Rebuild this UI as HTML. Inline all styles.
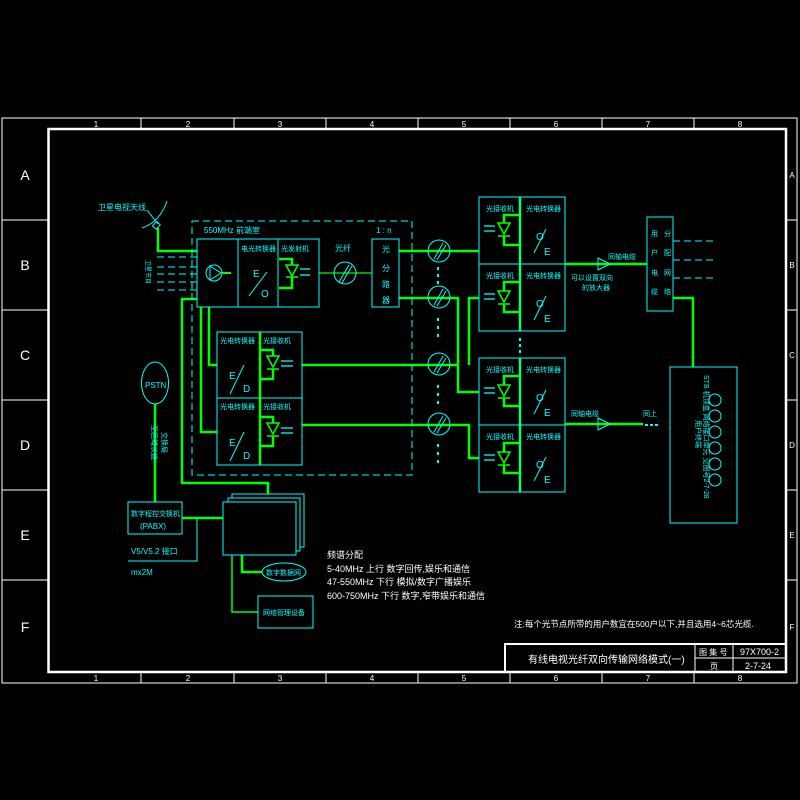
<!DOCTYPE html>
<html><head><meta charset="utf-8"><style>
html,body{margin:0;padding:0;background:#000;}
svg{display:block}
text{font-family:"Liberation Sans","Noto Sans CJK SC",sans-serif;}
</style></head><body>
<svg width="800" height="800" viewBox="0 0 800 800" xmlns="http://www.w3.org/2000/svg">
<rect width="800" height="800" fill="#000"/>
<g stroke="#fff" fill="none">
<rect x="2" y="118" width="795" height="565" stroke-width="1"/>
<rect x="48.5" y="129" width="737.5" height="543" stroke-width="2.5"/>
<line x1="141" y1="118" x2="141" y2="129"/><line x1="234" y1="118" x2="234" y2="129"/><line x1="326" y1="118" x2="326" y2="129"/><line x1="418" y1="118" x2="418" y2="129"/><line x1="510" y1="118" x2="510" y2="129"/><line x1="602" y1="118" x2="602" y2="129"/><line x1="694" y1="118" x2="694" y2="129"/>
<line x1="141" y1="672" x2="141" y2="683"/><line x1="234" y1="672" x2="234" y2="683"/><line x1="326" y1="672" x2="326" y2="683"/><line x1="418" y1="672" x2="418" y2="683"/><line x1="510" y1="672" x2="510" y2="683"/><line x1="602" y1="672" x2="602" y2="683"/><line x1="694" y1="672" x2="694" y2="683"/>
<line x1="2" y1="220" x2="48" y2="220"/><line x1="2" y1="310" x2="48" y2="310"/><line x1="2" y1="400" x2="48" y2="400"/><line x1="2" y1="490" x2="48" y2="490"/><line x1="2" y1="580" x2="48" y2="580"/>
<line x1="786" y1="220" x2="797" y2="220"/><line x1="786" y1="310" x2="797" y2="310"/><line x1="786" y1="400" x2="797" y2="400"/><line x1="786" y1="490" x2="797" y2="490"/><line x1="786" y1="580" x2="797" y2="580"/>
</g>
<g fill="#fff" font-size="8" text-anchor="middle">
<text x="96" y="127">1</text><text x="188" y="127">2</text><text x="280" y="127">3</text><text x="372" y="127">4</text><text x="464" y="127">5</text><text x="556" y="127">6</text><text x="648" y="127">7</text><text x="740" y="127">8</text>
<text x="96" y="681">1</text><text x="188" y="681">2</text><text x="280" y="681">3</text><text x="372" y="681">4</text><text x="464" y="681">5</text><text x="556" y="681">6</text><text x="648" y="681">7</text><text x="740" y="681">8</text>
</g>
<g fill="#fff" font-size="14" text-anchor="middle">
<text x="25" y="180">A</text><text x="25" y="270">B</text><text x="25" y="360">C</text><text x="25" y="450">D</text><text x="25" y="540">E</text><text x="25" y="632">F</text>
</g>
<g fill="#fff" font-size="8" text-anchor="middle">
<text x="792" y="178">A</text><text x="792" y="268">B</text><text x="792" y="358">C</text><text x="792" y="448">D</text><text x="792" y="538">E</text><text x="792" y="630">F</text>
</g>

<g stroke="#00ff00" stroke-width="2.5" fill="none">
<polyline points="158,228 158,251 197,251"/>
<polyline points="197,299 182,299 182,483 268,483 268,494"/>
<polyline points="209,307 209,365 217,365"/>
<polyline points="201,307 201,432 217,432"/>
<line x1="155" y1="404" x2="155" y2="502"/>
<line x1="182" y1="518" x2="223" y2="518"/>
<polyline points="242,555 242,572 262,572"/>
<polyline points="232,555 232,612 258,612" stroke-width="1.5"/>
<line x1="399" y1="251" x2="479" y2="251"/>
<polyline points="399,298 458,298 458,392 479,392"/>
<line x1="302" y1="365" x2="458" y2="365"/>
<polyline points="479,298 469,298 469,365"/>
<polyline points="302,425 469,425 469,458 479,458"/>
<line x1="565" y1="264" x2="647" y2="264"/>
<line x1="565" y1="424" x2="643" y2="424"/>
<polyline points="673,298 693,298 693,367"/>
<line x1="319" y1="273" x2="372" y2="273" stroke-width="1.2"/>
<polyline points="279,259 292,259 292,265"/><polyline points="292,277 292,288 279,288"/>
<line x1="260" y1="332" x2="260" y2="465"/>
<polyline points="260,350 273,350 273,356"/><polyline points="273,369 273,379 260,379"/>
<polyline points="260,417 273,417 273,423"/><polyline points="273,436 273,446 260,446"/>
<line x1="520" y1="197" x2="520" y2="331"/><line x1="520" y1="358" x2="520" y2="492"/>
<polyline points="520,215 504,215 504,223"/><polyline points="504,236 504,245 520,245"/>
<polyline points="520,282 504,282 504,291"/><polyline points="504,304 504,312 520,312"/>
<polyline points="520,376 504,376 504,385"/><polyline points="504,398 504,406 520,406"/>
<polyline points="520,443 504,443 504,452"/><polyline points="504,465 504,473 520,473"/>
</g>
<g stroke="#00ff00" stroke-width="1.5" fill="none">
<path d="M286,265 L298,265 L292,276 Z M286,277 L298,277"/>
<path d="M267,356 L279,356 L273,367 Z M267,369 L279,369"/>
<path d="M267,423 L279,423 L273,434 Z M267,436 L279,436"/>
<path d="M498,223 L510,223 L504,234 Z M498,236 L510,236"/>
<path d="M498,291 L510,291 L504,302 Z M498,304 L510,304"/>
<path d="M498,385 L510,385 L504,396 Z M498,398 L510,398"/>
<path d="M498,452 L510,452 L504,463 Z M498,465 L510,465"/>
</g>
<g stroke="#00ffff" stroke-width="1.3">
<line x1="300" y1="269" x2="310" y2="269"/><line x1="300" y1="275" x2="310" y2="275"/>
<line x1="281" y1="361" x2="293" y2="361"/><line x1="281" y1="366" x2="293" y2="366"/>
<line x1="281" y1="428" x2="293" y2="428"/><line x1="281" y1="433" x2="293" y2="433"/>
<line x1="484" y1="226" x2="495" y2="226"/><line x1="484" y1="231" x2="495" y2="231"/>
<line x1="484" y1="294" x2="495" y2="294"/><line x1="484" y1="299" x2="495" y2="299"/>
<line x1="484" y1="388" x2="495" y2="388"/><line x1="484" y1="393" x2="495" y2="393"/>
<line x1="484" y1="455" x2="495" y2="455"/><line x1="484" y1="460" x2="495" y2="460"/>
</g>

<g stroke="#00ffff" stroke-width="1" fill="none">
<rect x="192" y="221" width="220" height="254" stroke-dasharray="7,4"/>
<rect x="197" y="239" width="122" height="68"/><line x1="238" y1="239" x2="238" y2="307"/><line x1="278" y1="239" x2="278" y2="307"/>
<circle cx="214" cy="273" r="8"/><path d="M210,266 L210,280 L221,273 Z"/><line x1="221" y1="273" x2="231" y2="273" stroke="#00ff00" stroke-width="2"/>
<line x1="249" y1="296" x2="267" y2="272"/>
<circle cx="345" cy="273" r="11"/><line x1="339" y1="282" x2="349" y2="265"/><line x1="342" y1="283" x2="352" y2="266"/>
<rect x="372" y="239" width="27" height="68"/>
<rect x="217" y="332" width="85" height="133"/><line x1="217" y1="398" x2="302" y2="398"/>
<line x1="230" y1="394" x2="244" y2="365"/><line x1="230" y1="461" x2="244" y2="432"/>
<g stroke-dasharray="7,4"><line x1="157" y1="257" x2="197" y2="257"/><line x1="157" y1="267" x2="197" y2="267"/><line x1="157" y1="274" x2="197" y2="274"/><line x1="157" y1="282" x2="197" y2="282"/><line x1="157" y1="290" x2="197" y2="290"/>
<line x1="673" y1="241" x2="714" y2="241"/><line x1="673" y1="260" x2="714" y2="260"/><line x1="673" y1="278" x2="714" y2="278"/></g>
<path d="M142,228 Q160,222 167,201"/><line x1="147" y1="210" x2="158" y2="224"/><rect x="154" y="222" width="5" height="6" transform="rotate(40 156 225)"/>
<ellipse cx="155" cy="383" rx="13.5" ry="21"/>
<rect x="128" y="502" width="54" height="32"/>
<polyline points="197,518 197,561 128,561"/>
<rect x="232" y="494" width="72" height="53"/><rect x="228" y="498" width="72" height="53" fill="#000"/><rect x="223" y="502" width="73" height="53" fill="#000"/>
<ellipse cx="284" cy="572" rx="22" ry="9"/>
<rect x="258" y="596" width="55" height="32"/>
<circle cx="439" cy="251" r="11"/><circle cx="439" cy="297" r="11"/><circle cx="439" cy="364" r="11"/><circle cx="439" cy="424" r="11"/>
<g><line x1="434" y1="259" x2="443" y2="243"/><line x1="437" y1="260" x2="446" y2="245"/><line x1="434" y1="305" x2="443" y2="289"/><line x1="437" y1="306" x2="446" y2="291"/><line x1="434" y1="372" x2="443" y2="356"/><line x1="437" y1="373" x2="446" y2="358"/><line x1="434" y1="432" x2="443" y2="416"/><line x1="437" y1="433" x2="446" y2="418"/></g>
<rect x="479" y="197" width="86" height="134"/><line x1="479" y1="264" x2="565" y2="264"/><line x1="520" y1="197" x2="520" y2="331"/>
<rect x="479" y="358" width="86" height="134"/><line x1="479" y1="425" x2="565" y2="425"/><line x1="520" y1="358" x2="520" y2="492"/>
<line x1="534" y1="253" x2="546" y2="229"/><line x1="534" y1="320" x2="546" y2="296"/><line x1="534" y1="414" x2="546" y2="390"/><line x1="534" y1="481" x2="546" y2="457"/>
<path d="M598,258 L610,264 L598,270 Z"/><path d="M598,418 L610,424 L598,430 Z"/>
<rect x="647" y="217" width="26" height="94"/>
<rect x="670" y="367" width="67" height="156"/>
<g><circle cx="715" cy="400" r="6"/><circle cx="715" cy="416" r="6"/><circle cx="715" cy="432" r="6"/><circle cx="715" cy="448" r="6"/><circle cx="715" cy="464" r="6"/><circle cx="715" cy="480" r="6"/></g>
</g>
<g fill="#00ffff">
<rect x="437" y="267" width="2" height="3"/><rect x="437" y="274" width="2" height="3"/><rect x="437" y="281" width="2" height="3"/>
<rect x="437" y="318" width="2" height="3"/><rect x="437" y="326" width="2" height="3"/><rect x="437" y="334" width="2" height="3"/>
<rect x="437" y="385" width="2" height="3"/><rect x="437" y="393" width="2" height="3"/><rect x="437" y="401" width="2" height="3"/>
<rect x="437" y="444" width="2" height="3"/><rect x="437" y="452" width="2" height="3"/><rect x="437" y="460" width="2" height="3"/>
<rect x="519" y="338" width="2" height="3"/><rect x="519" y="344" width="2" height="3"/><rect x="519" y="350" width="2" height="3"/>
<rect x="645" y="424" width="3" height="2"/><rect x="650" y="424" width="3" height="2"/><rect x="655" y="424" width="3" height="2"/>
</g>

<g fill="#00ffff" font-size="8">
<text x="98" y="210">卫星电视天线</text>
<text x="204" y="233">550MHz  前端室</text><text x="376" y="233">1 : n</text>
<text x="241" y="251" font-size="7">电光转换器</text><text x="281" y="251" font-size="7">光发射机</text>
<text x="253" y="277" font-size="10">E</text><text x="261" y="297" font-size="10">O</text>
<text x="335" y="251">光纤</text>
<text x="382" y="252">光</text><text x="382" y="271">分</text><text x="382" y="287">路</text><text x="382" y="303">器</text>
<text x="220" y="343" font-size="7">光电转换器</text><text x="263" y="343" font-size="7">光接收机</text>
<text x="220" y="409" font-size="7">光电转换器</text><text x="263" y="409" font-size="7">光接收机</text>
<text x="229" y="379" font-size="10">E</text><text x="243" y="392" font-size="10">D</text>
<text x="229" y="446" font-size="10">E</text><text x="243" y="459" font-size="10">D</text>
<text x="145" y="388">PSTN</text>
<text x="131" y="516" font-size="7">数字程控交换机</text><text x="140" y="529">(PABX)</text>
<text x="131" y="554">V5/V5.2 接口</text><text x="131" y="575">mx2M</text>
<text x="266" y="575" font-size="7">数字数据网</text>
<text x="263" y="615" font-size="7">网络管理设备</text>
<text x="486" y="211" font-size="7">光接收机</text><text x="526" y="211" font-size="7">光电转换器</text>
<text x="486" y="278" font-size="7">光接收机</text><text x="526" y="278" font-size="7">光电转换器</text>
<text x="486" y="372" font-size="7">光接收机</text><text x="526" y="372" font-size="7">光电转换器</text>
<text x="486" y="439" font-size="7">光接收机</text><text x="526" y="439" font-size="7">光电转换器</text>
<g font-size="10"><text x="536" y="240">O</text><text x="544" y="255">E</text><text x="536" y="307">O</text><text x="544" y="322">E</text><text x="536" y="401">O</text><text x="544" y="416">E</text><text x="536" y="468">O</text><text x="544" y="483">E</text></g>
<text x="608" y="259" font-size="7">同轴电缆</text>
<text x="571" y="280" font-size="7">可以设置双向</text><text x="582" y="290" font-size="7">的放大器</text>
<text x="571" y="416" font-size="7">同轴电缆</text><text x="643" y="416" font-size="7">同上</text>
<text x="651" y="236" font-size="7">用</text><text x="664" y="236" font-size="7">分</text>
<text x="651" y="255" font-size="7">户</text><text x="664" y="255" font-size="7">配</text>
<text x="651" y="275" font-size="7">电</text><text x="664" y="275" font-size="7">网</text>
<text x="651" y="294" font-size="7">缆</text><text x="664" y="294" font-size="7">络</text>
<text transform="translate(696,420) rotate(90)" font-size="7">用户终端</text>
<text transform="translate(704,375) rotate(90)" font-size="7">STB 机顶盒 网络接口单元 见图号2-7-28</text>
<text transform="translate(152,425) rotate(90)" font-size="7">至区域长途</text>
<text transform="translate(162,432) rotate(90)" font-size="7">交换局</text>
<text transform="translate(146,260) rotate(90)" font-size="6">卫星节目</text>
</g>
<g fill="#fff" font-size="9">
<text x="327" y="558">频谱分配</text>
<text x="327" y="572">5-40MHz 上行 数字回传,娱乐和通信</text>
<text x="327" y="585">47-550MHz 下行 模拟/数字广播娱乐</text>
<text x="327" y="599">600-750MHz 下行 数字,窄带娱乐和通信</text>
<text x="514" y="627" font-size="8.5">注:每个光节点所带的用户数宜在500户以下,并且选用4~6芯光缆.</text>
</g>
<g stroke="#fff" fill="none">
<rect x="505" y="644" width="281" height="28" stroke-width="2"/>
<line x1="695" y1="644" x2="695" y2="672"/><line x1="733" y1="644" x2="733" y2="672"/><line x1="695" y1="658" x2="786" y2="658"/>
</g>
<g fill="#fff">
<text x="528" y="663" font-size="10">有线电视光纤双向传输网络模式(一)</text>
<text x="699" y="655" font-size="8">图 集 号</text><text x="740" y="655" font-size="9">97X700-2</text>
<text x="710" y="669" font-size="8">页</text><text x="745" y="669" font-size="9">2-7-24</text>
</g>
</svg>
</body></html>
